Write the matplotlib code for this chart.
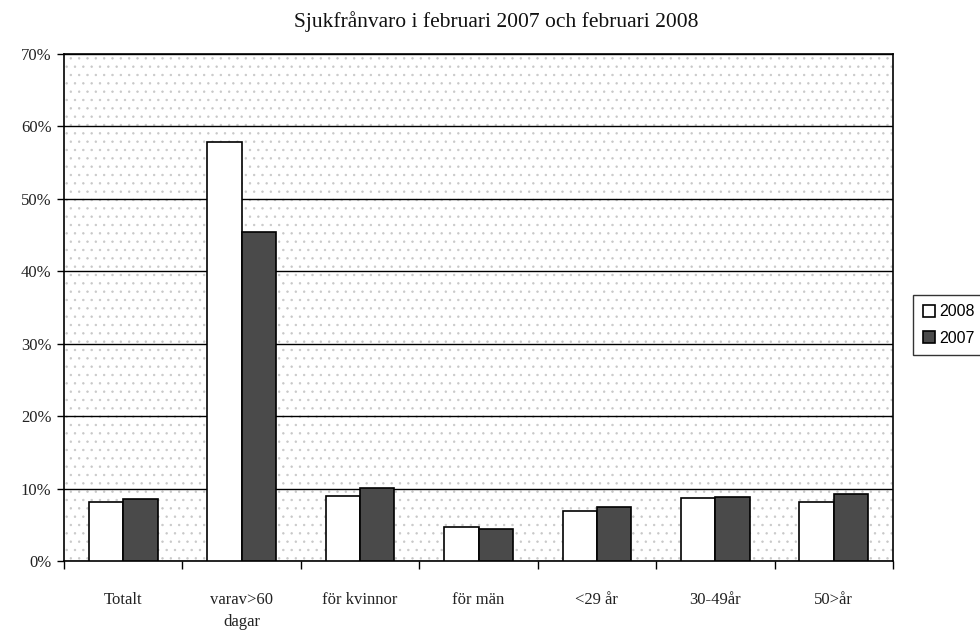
import numpy as np
import matplotlib
matplotlib.use("Agg")
import matplotlib.pyplot as plt
from matplotlib.patches import Rectangle

# ─── Data ────────────────────────────────────────────────────────────────────
categories = ["Totalt", "varav>60\ndagar", "för kvinnor", "för män",
              "<29 år", "30-49år", "50>år"]
values_2008 = [8.1, 57.9, 9.0, 4.7, 6.9, 8.7, 8.1]
values_2007 = [8.6, 45.4, 10.1, 4.4, 7.5, 8.8, 9.2]
yticks = [0, 10, 20, 30, 40, 50, 60, 70]
ytick_labels = [f"{v}%" for v in yticks]

SERIF = ["Liberation Serif", "DejaVu Serif"]

fig = plt.figure(figsize=(9.8, 6.3), dpi=100)
ax = fig.add_axes([64 / 980, 1 - 561 / 630, (893 - 64) / 980, (561 - 54) / 630])

# stippled plot background
plt.rcParams["hatch.color"] = "#c8c8c8"
plt.rcParams["hatch.linewidth"] = 0.5
ax.add_patch(Rectangle((0, 0), 1, 1, transform=ax.transAxes, facecolor="white",
                       hatch="..", edgecolor="#c8c8c8", linewidth=0, zorder=0))

x = np.arange(len(categories))
w = 0.29
ax.bar(x - w / 2, values_2008, w, color="white", edgecolor="black",
       linewidth=1.2, label="2008", zorder=3)
ax.bar(x + w / 2, values_2007, w, color="#4a4a4a", edgecolor="black",
       linewidth=1.2, label="2007", zorder=3)

ax.set_xlim(-0.5, len(categories) - 0.5)
ax.set_ylim(0, 70)
ax.set_yticks(yticks)
ax.set_yticklabels(ytick_labels, family=SERIF, fontsize=12, color="#222222")
ax.yaxis.grid(True, color="black", linewidth=1.0, zorder=1)
ax.set_axisbelow(True)

# category labels centred, ticks between categories
ax.set_xticks(np.arange(len(categories) + 1) - 0.5)
ax.set_xticklabels([])
ax.set_xticks(x, minor=True)
ax.set_xticklabels(categories, minor=True, family=SERIF, fontsize=12,
                   color="#222222", linespacing=1.5)
ax.tick_params(axis="x", which="minor", length=0, pad=22)
ax.tick_params(axis="x", which="major", length=6, width=1, direction="out")
ax.tick_params(axis="y", length=5, width=1, direction="out", pad=4)

for s in ax.spines.values():
    s.set_color("black")
    s.set_linewidth(1.2)

fig.text(0.506, 1 - 22 / 630, "Sjukfrånvaro i februari 2007 och februari 2008",
         ha="center", va="center", family=SERIF, fontsize=15.5, color="#111111")

leg = ax.legend(loc="center left", bbox_to_anchor=(913 / 980, 1 - 325 / 630),
                bbox_transform=fig.transFigure, frameon=True, fancybox=False,
                edgecolor="black", handlelength=0.75, handleheight=0.75,
                handletextpad=0.3, borderpad=0.6, labelspacing=0.7,
                borderaxespad=0,
                prop={"family": "Liberation Sans", "size": 11.5})
leg.get_frame().set_linewidth(1.0)

fig.savefig("out.png", dpi=100)
